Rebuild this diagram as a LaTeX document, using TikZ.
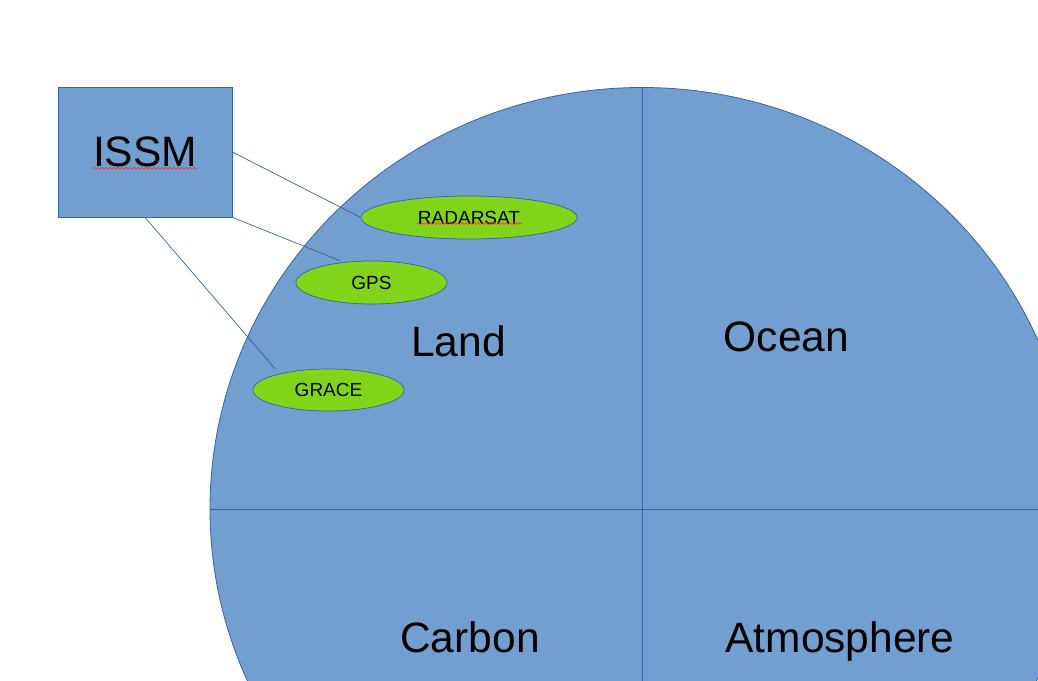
\documentclass[tikz,border=0pt]{standalone}
\usepackage{fontspec}
\setmainfont{Liberation Sans}
\usetikzlibrary{shapes.geometric,decorations.pathmorphing}
\definecolor{fillblue}{HTML}{729FCF}
\definecolor{lineblue}{HTML}{3465A4}
\definecolor{satgreen}{HTML}{81D41A}
\definecolor{spellred}{HTML}{E8372B}
\begin{document}
\begin{tikzpicture}[x=1pt,y=-1pt,
  big/.style={font=\fontsize{42.5}{50}\selectfont, anchor=base, inner sep=0pt},
  sat/.style={ellipse, draw=lineblue, line width=0.7pt, fill=satgreen, inner sep=0pt, font=\fontsize{19}{22}\selectfont},
  boxnode/.style={rectangle, draw=lineblue, line width=0.7pt, fill=fillblue, inner sep=0pt, minimum width=174pt, minimum height=130pt, font=\fontsize{42.5}{50}\selectfont},
  link/.style={draw=lineblue, line width=0.7pt},
  divider/.style={draw=lineblue, line width=1pt},
  squig/.style={draw=spellred, line width=0.6pt, decorate, decoration={snake, amplitude=0.9pt, segment length=4pt}}]
\useasboundingbox (0,0) rectangle (1038,680);
\begin{scope}
  \clip (0,0) rectangle (1038,680);
  \path[fill=fillblue, draw=lineblue, line width=0.8pt] (642,509) ellipse [x radius=432, y radius=421.5];
  \begin{scope}
    \clip (642,509) ellipse [x radius=432, y radius=421.5];
    \coordinate (vtop) at (642,80);
    \coordinate (vbot) at (642,700);
    \coordinate (hleft) at (200,509);
    \coordinate (hright) at (1090,509);
    \draw[divider] (vtop) -- (vbot);
    \draw[divider] (hleft) -- (hright);
  \end{scope}
\end{scope}

\node[big] (land) at (458.5,356.7) {Land};
\node[big] (ocean) at (786.5,351.7) {Ocean};
\node[big] (carbon) at (470,652.3) {Carbon};
\node[big] (atmo) at (840,652.3) {Atmosphere};

\node[boxnode] (issm) at (145,152) {ISSM};
\node[sat, minimum width=216pt, minimum height=43pt] (radarsat) at (469,217.5) {RADARSAT};
\node[sat, minimum width=151pt, minimum height=43pt] (gps) at (371.5,282.5) {GPS};
\node[sat, minimum width=151pt, minimum height=42pt] (grace) at (328.5,390) {GRACE};

\draw[link] (issm.east) -- (radarsat.west);
\draw[link] (issm.south east) -- ([xshift=-31.5pt]gps.north);
\draw[link] (issm.south) -- ([xshift=-53.5pt]grace.north);

\draw[squig] (92.7,168.3) -- (197.3,168.3);
\draw[squig] (417,223.5) -- (521,223.5);
\end{tikzpicture}
\end{document}
